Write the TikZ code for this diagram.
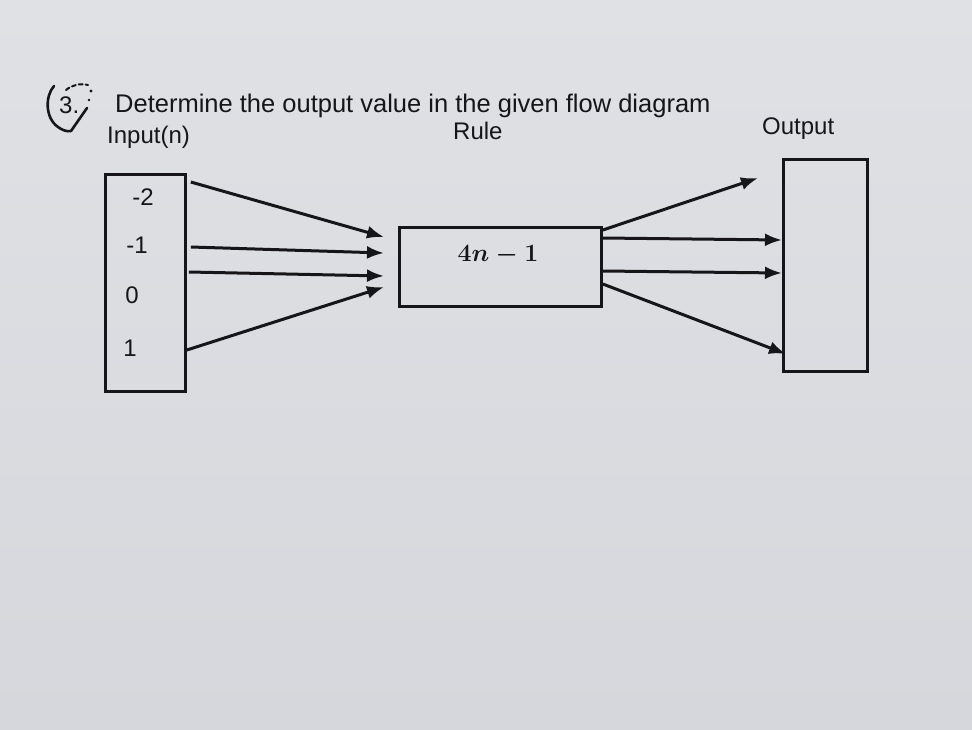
\documentclass[tikz,border=0pt]{standalone}
\usepackage{fontspec}
\setmainfont{Liberation Sans}
\usetikzlibrary{arrows.meta}
\definecolor{paper}{RGB}{214,215,220}
\definecolor{paperlight}{RGB}{224,225,229}
\definecolor{ink}{RGB}{22,22,26}
\tikzset{
  box/.style={draw=ink, line width=2.8pt, inner sep=0pt},
  arr/.style={draw=ink, line width=3pt, -{Latex[length=17pt,width=13pt]}},
  lbl/.style={text=ink, font=\fontsize{24}{26}\selectfont, anchor=base west, inner sep=0pt},
  num/.style={text=ink, font=\fontsize{24}{26}\selectfont, inner sep=0pt}
}
\begin{document}
\begin{tikzpicture}[x=1pt,y=-1pt]
\useasboundingbox (0,0) rectangle (972,729);
\shade[top color=paperlight, bottom color=paper] (0,0) rectangle (972,729);
% title with hand-drawn mark
\node[lbl] (qnum) at (59,113) {3.};
\draw[ink, line width=2.6pt, line cap=round] (54,86) .. controls (45,96) and (45,118) .. (58,127) .. controls (62,130) and (67,132) .. (71,131);
\draw[ink, line width=2.6pt, line cap=round] (71,131) -- (87,108);
\draw[ink, line width=2pt, line cap=round, dash pattern=on 4pt off 3pt] (66,90) .. controls (72,85) and (80,83) .. (88,85);
\fill[ink] (91,91) circle (1.6pt) (89,100) circle (1.4pt);
\node[lbl, font=\fontsize{25.5}{27}\selectfont] (title) at (115,112) {Determine the output value in the given flow diagram};
\node[lbl] (inlbl) at (107,143) {Input(n)};
\node[lbl] (rulelbl) at (453,139) {Rule};
\node[lbl] (outlbl) at (762,134) {Output};
% boxes
\node[box, minimum width=80pt, minimum height=217pt, anchor=north west] (inbox) at (104,173) {};
\node[box, minimum width=202pt, minimum height=79pt, anchor=north west] (rulebox) at (398,226) {};
\node[box, minimum width=84pt, minimum height=212pt, anchor=north west] (outbox) at (782,158) {};
% input values
\node[num] (vm2) at (143,197) {-2};
\node[num] (vm1) at (137,245) {-1};
\node[num] (v0) at (132,295) {0};
\node[num] (v1) at (130,348) {1};
% rule text
\node[text=ink, font=\fontsize{23}{25}\selectfont\boldmath, inner sep=0pt] (rule) at (498,255) {$4n-1$};
% arrow endpoints
\coordinate (a1) at (inbox.north east |- 0,182);
\coordinate (a2) at (inbox.north east |- 0,247);
\coordinate (a3) at (inbox.north east |- 0,272);
\coordinate (a4) at (inbox.north east |- 0,350);
\coordinate (b1) at (384,237);
\coordinate (b2) at (384,253);
\coordinate (b3) at (384,276);
\coordinate (b4) at (384,287);
\coordinate (c1) at (rulebox.north east |- 0,230);
\coordinate (c2) at (rulebox.north east |- 0,238);
\coordinate (c3) at (rulebox.north east |- 0,271);
\coordinate (c4) at (rulebox.north east |- 0,284);
\coordinate (d1) at (758,178);
\coordinate (d2) at (782,240);
\coordinate (d3) at (782,273);
\coordinate (d4) at (786,354);
\draw[arr] ([xshift=4pt]a1) -- (b1);
\draw[arr] ([xshift=4pt]a2) -- (b2);
\draw[arr] ([xshift=2pt]a3) -- (b3);
\draw[arr] (a4) -- (b4);
\draw[arr] (c1) -- (d1);
\draw[arr] (c2) -- (d2);
\draw[arr] (c3) -- (d3);
\draw[arr] (c4) -- (d4);
\end{tikzpicture}
\end{document}
